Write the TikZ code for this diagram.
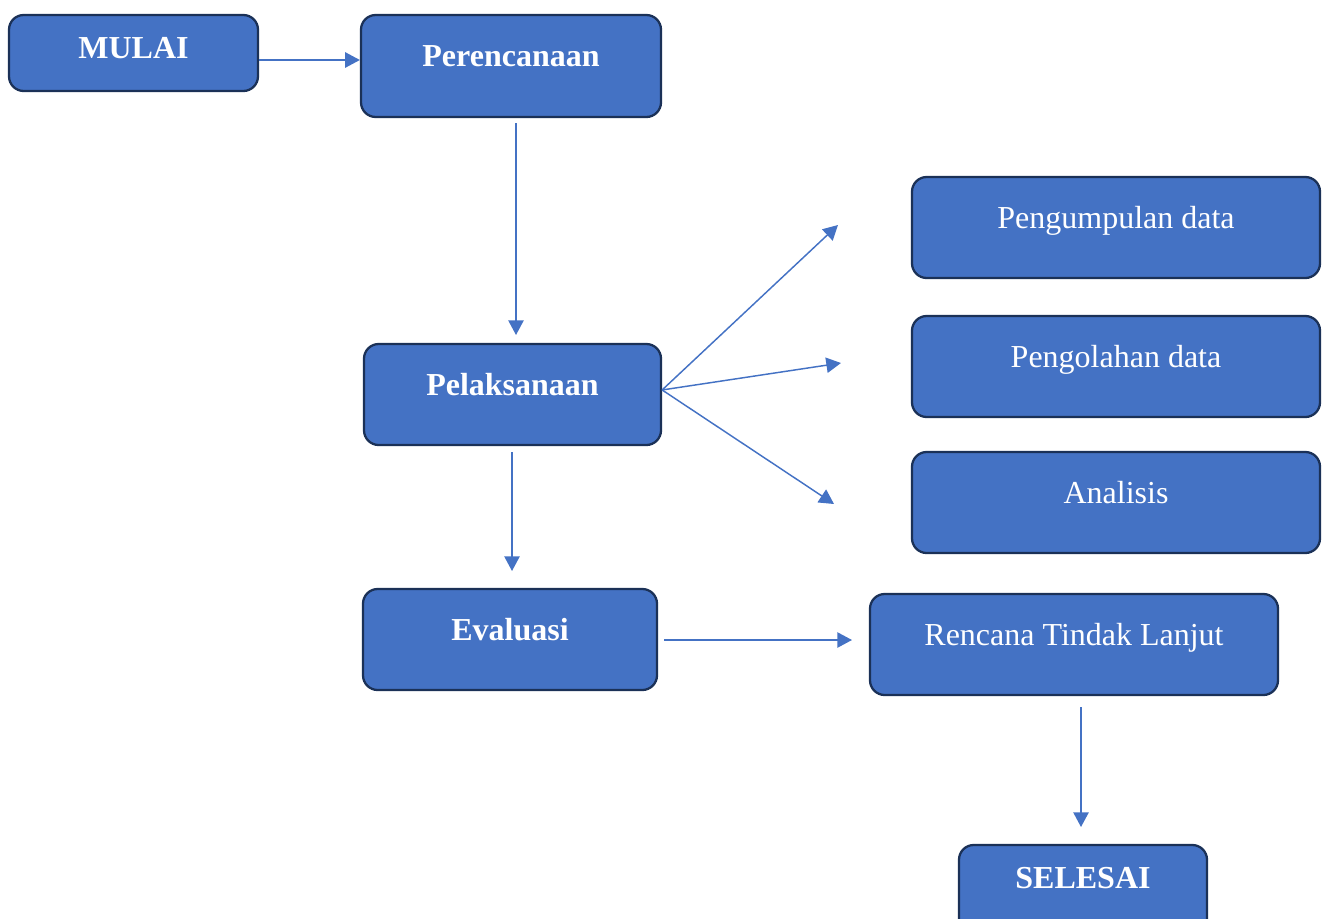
\documentclass[tikz,border=0pt]{standalone}
\usepackage{fontspec}
\setmainfont{Liberation Serif}
\usetikzlibrary{arrows.meta}

\definecolor{boxblue}{HTML}{4472C4}
\definecolor{boxline}{HTML}{1B3157}
\definecolor{flowblue}{HTML}{4472C4}

\begin{document}
\begin{tikzpicture}[x=0.75pt,y=-0.75pt,
stepbox/.style={draw=boxline, line width=1.7pt, fill=boxblue, rounded corners=11pt,
  text=white, font=\fontsize{24}{28}\selectfont, inner sep=0pt,
  text height=16pt, text depth=15pt, minimum height=75.75pt},
boldbox/.style={stepbox, font=\fontsize{24}{28}\selectfont\bfseries},
flow/.style={flowblue, line width=1.1pt, -{Triangle[length=11pt,width=11.5pt]}}]

\useasboundingbox (0,0) rectangle (1328,918);

% left column
\node[boldbox, minimum width=186.75pt, minimum height=57pt, text depth=7.5pt] (mulai) at (133.5,53) {MULAI};
\node[boldbox, minimum width=225pt, minimum height=76.5pt] (plan) at (511,66) {Perencanaan};
\node[boldbox, minimum width=222.75pt] (exec) at (512.5,394.5) {Pelaksanaan};
\node[boldbox, minimum width=220.5pt] (eval) at (510,639.5) {Evaluasi};

% right column
\node[stepbox, minimum width=306pt] (collect) at (1116,227.5) {Pengumpulan data};
\node[stepbox, minimum width=306pt] (process) at (1116,366.5) {Pengolahan data};
\node[stepbox, minimum width=306pt] (analysis) at (1116,502.5) {Analisis};
\node[stepbox, minimum width=306pt] (followup) at (1074,644.5) {Rencana Tindak Lanjut};
\node[boldbox, minimum width=186pt, minimum height=67.5pt, text depth=18pt] (selesai) at (1083,890) {SELESAI};

% free ends of the arrows
\coordinate (m1) at ([yshift=-5.25pt]mulai.east);
\coordinate (p1) at (516,335);
\coordinate (x1) at (512,571);
\coordinate (fan) at ([yshift=3.4pt]exec.east);
\coordinate (c1) at (838,225);
\coordinate (c2) at (841,363);
\coordinate (c3) at (834,504);
\coordinate (v1) at (852,640);
\coordinate (r1) at (1081,827);

\draw[flow] (m1) -- (m1 -| plan.west);
\draw[flow] ([yshift=-3.75pt]plan.south -| p1) -- (p1);
\draw[flow] ([yshift=-4.5pt]exec.south -| x1) -- (x1);
\draw[flow] (fan) -- (c1);
\draw[flow] (fan) -- (c2);
\draw[flow] (fan) -- (c3);
\draw[flow] ([xshift=4.5pt]eval.east |- v1) -- (v1);
\draw[flow] ([yshift=-8.25pt]followup.south -| r1) -- (r1);

\end{tikzpicture}
\end{document}
